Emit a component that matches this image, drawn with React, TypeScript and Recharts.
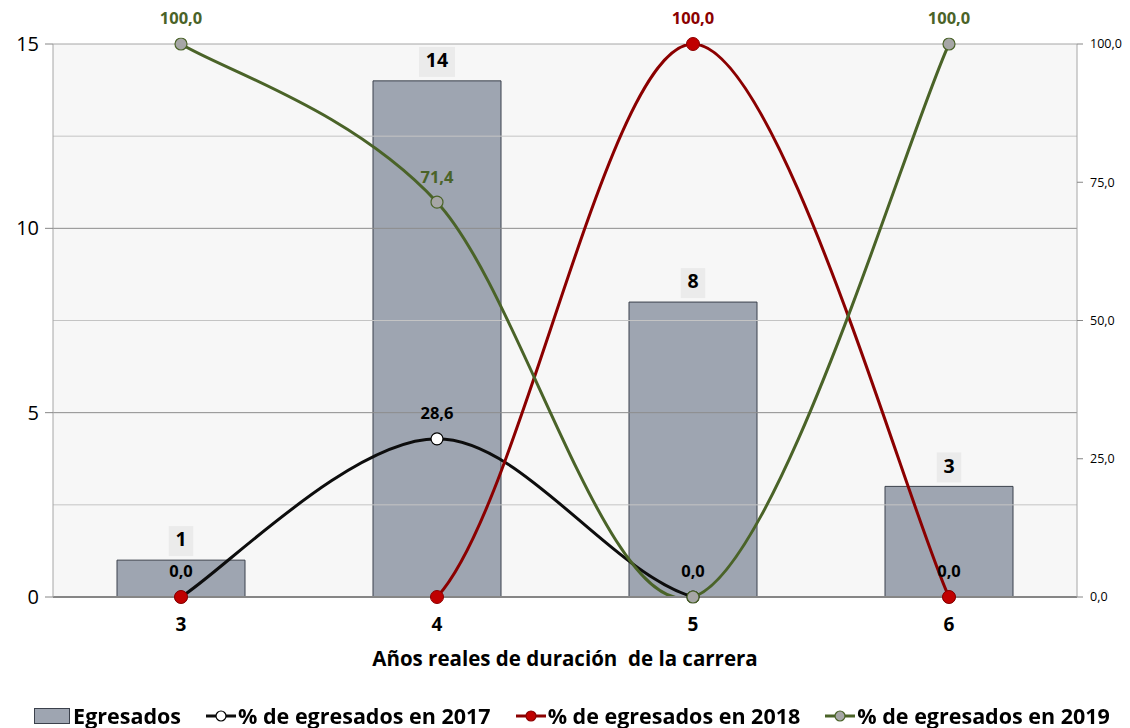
import React from 'react';
import {
  ComposedChart, Bar, Line, XAxis, YAxis, CartesianGrid, ReferenceLine, LabelList,
} from 'recharts';

const categories = ['3', '4', '5', '6'];
const egresados = [1, 14, 8, 3];
const pct2017 = [0, 28.6, 0, 0];
const pct2018 = [0, 0, 100, 0];
const pct2019 = [100, 71.4, 0, 100];
const leftTicks = [0, 5, 10, 15];
const rightTicks = [0, 25, 50, 75, 100];
const minorGrid = [2.5, 7.5, 12.5];
const majorGrid = [5, 10];
const topBorder = 15;

const seriesNames = {
  bar: 'Egresados',
  s2017: '% de egresados en 2017',
  s2018: '% de egresados en 2018',
  s2019: '% de egresados en 2019',
};
const xTitle = 'Años reales de duración\u00a0 de la carrera';

const data = categories.map((c, i) => ({
  cat: c,
  egresados: egresados[i],
  p2017: pct2017[i],
  p2018: pct2018[i],
  p2019: pct2019[i],
}));

const FONT = '"Open Sans", "Noto Sans", sans-serif';
const BAR_FILL = '#9ea5b1';
const BAR_STROKE = '#3b414c';
const C2017 = '#0d0d0d';
const C2018 = '#8b0000';
const C2018_FILL = '#c00000';
const C2019 = '#4a6328';
const C2019_FILL = '#a6a6a6';

const fmt = (v: number) => v.toFixed(1).replace('.', ',');

// Excel-like smoothed line (Catmull-Rom style Bezier)
const excelCurve: any = (context: any) => {
  let pts: number[][] = [];
  return {
    areaStart() {},
    areaEnd() {},
    lineStart() { pts = []; },
    point(x: number, y: number) { pts.push([+x, +y]); },
    lineEnd() {
      const n = pts.length;
      if (!n) return;
      context.moveTo(pts[0][0], pts[0][1]);
      const t = 1 / 6;
      for (let i = 0; i < n - 1; i++) {
        const p0 = pts[i - 1] || pts[i];
        const p1 = pts[i];
        const p2 = pts[i + 1];
        const p3 = pts[i + 2] || pts[i + 1];
        context.bezierCurveTo(
          p1[0] + (p2[0] - p0[0]) * t, p1[1] + (p2[1] - p0[1]) * t,
          p2[0] - (p3[0] - p1[0]) * t, p2[1] - (p3[1] - p1[1]) * t,
          p2[0], p2[1],
        );
      }
    },
  };
};

const lineLabel = (color: string, onlyPositive: boolean) => (props: any) => {
  const { x, y, value } = props;
  if (value == null) return null;
  if (onlyPositive && !(value > 0)) return null;
  return (
    <text x={x} y={y - 24} textAnchor="middle" dominantBaseline="middle"
      fontFamily={FONT} fontWeight={700} fontSize={16.5} fill={color}>
      {fmt(value)}
    </text>
  );
};

const barLabel = (props: any) => {
  const { x, y, width, value } = props;
  const cx = x + width / 2;
  const s = String(value);
  const w = s.length * 11.5 + 13;
  return (
    <g>
      <rect x={cx - w / 2} y={y - 34} width={w} height={30} fill="#ebebeb" />
      <text x={cx} y={y - 19} textAnchor="middle" dominantBaseline="middle"
        fontFamily={FONT} fontWeight={700} fontSize={19.5} fill="#000">
        {s}
      </text>
    </g>
  );
};

const LineIcon = ({ stroke, fill, dotStroke }: { stroke: string; fill: string; dotStroke: string }) => (
  <svg width={32} height={16} style={{ marginRight: 1 }}>
    <line x1={1} y1={8} x2={31} y2={8} stroke={stroke} strokeWidth={3} />
    <circle cx={16} cy={8} r={5} fill={fill} stroke={dotStroke} strokeWidth={1.2} />
  </svg>
);

export default function App() {
  return (
    <div style={{ position: 'fixed', left: 0, top: 0, width: 1130, height: 728, background: '#fff' }}>
      <ComposedChart width={1130} height={728} data={data}
        margin={{ top: 44, right: 0, bottom: 51, left: 0 }} barCategoryGap="25%">
        <CartesianGrid yAxisId="left" fill="#f7f7f7" horizontal={false} vertical={false} />
        <XAxis dataKey="cat" height={80} tickLine={false}
          axisLine={{ stroke: '#868686', strokeWidth: 2 }}
          tick={{ fontFamily: FONT, fontWeight: 700, fontSize: 19, fill: '#000' }}
          tickMargin={15}
          label={{ value: xTitle, position: 'insideBottom', offset: 11,
            style: { fontFamily: FONT, fontWeight: 700, fontSize: 20.5, fill: '#000' } }} />
        <YAxis yAxisId="left" orientation="left" width={53} domain={[0, 15]} ticks={leftTicks}
          interval={0} tickSize={8} tickMargin={6}
          axisLine={{ stroke: '#a6a6a6' }} tickLine={{ stroke: '#868686' }}
          tick={{ fontFamily: FONT, fontSize: 20, fill: '#000' }} />
        <YAxis yAxisId="right" orientation="right" width={53} domain={[0, 100]} ticks={rightTicks}
          interval={0} tickSize={6} tickMargin={7} allowDataOverflow
          tickFormatter={(v: number) => fmt(v)}
          axisLine={{ stroke: '#a6a6a6' }} tickLine={{ stroke: '#868686' }}
          tick={{ fontFamily: FONT, fontSize: 12.5, fill: '#000', textAnchor: 'start' }} />
        {minorGrid.map((v) => (
          <ReferenceLine key={'m' + v} yAxisId="left" y={v} stroke="#c4c4c4" strokeWidth={1} />
        ))}
        {majorGrid.map((v) => (
          <ReferenceLine key={'M' + v} yAxisId="left" y={v} stroke="#8c8c8c" strokeWidth={1} />
        ))}
        <ReferenceLine yAxisId="left" y={topBorder} stroke="#a6a6a6" strokeWidth={1} />
        <Bar yAxisId="left" dataKey="egresados" name={seriesNames.bar} fill={BAR_FILL}
          stroke={BAR_STROKE} strokeWidth={1} isAnimationActive={false}>
          <LabelList dataKey="egresados" content={barLabel} />
        </Bar>
        <Line yAxisId="right" dataKey="p2017" name={seriesNames.s2017} type={excelCurve}
          stroke={C2017} strokeWidth={3} isAnimationActive={false}
          dot={{ r: 6, fill: '#ffffff', stroke: '#000', strokeWidth: 1.2, clipDot: false } as any}
          activeDot={false}>
          <LabelList dataKey="p2017" content={lineLabel('#000', false)} />
        </Line>
        <Line yAxisId="right" dataKey="p2018" name={seriesNames.s2018} type={excelCurve}
          stroke={C2018} strokeWidth={3} isAnimationActive={false}
          dot={{ r: 6.5, fill: C2018_FILL, stroke: C2018, strokeWidth: 1, clipDot: false } as any}
          activeDot={false}>
          <LabelList dataKey="p2018" content={lineLabel(C2018, true)} />
        </Line>
        <Line yAxisId="right" dataKey="p2019" name={seriesNames.s2019} type={excelCurve}
          stroke={C2019} strokeWidth={3} isAnimationActive={false}
          dot={{ r: 6, fill: C2019_FILL, stroke: C2019, strokeWidth: 1.2, clipDot: false } as any}
          activeDot={false}>
          <LabelList dataKey="p2019" content={lineLabel(C2019, true)} />
        </Line>
      </ComposedChart>
      <div style={{
        position: 'absolute', left: 0, top: 701, width: 1130, display: 'flex', justifyContent: 'center',
        alignItems: 'center', fontFamily: FONT, fontWeight: 700, fontSize: 21.5, color: '#000', gap: 24,
        paddingLeft: 14, boxSizing: 'border-box', whiteSpace: 'nowrap',
      }}>
        <div style={{ display: 'flex', alignItems: 'center' }}>
          <span style={{ display: 'inline-block', width: 34, height: 14, background: BAR_FILL,
            border: '1px solid ' + BAR_STROKE, marginRight: 3 }} />
          {seriesNames.bar}
        </div>
        <div style={{ display: 'flex', alignItems: 'center' }}>
          <LineIcon stroke={C2017} fill="#fff" dotStroke="#000" />{seriesNames.s2017}
        </div>
        <div style={{ display: 'flex', alignItems: 'center' }}>
          <LineIcon stroke={C2018} fill={C2018_FILL} dotStroke={C2018} />{seriesNames.s2018}
        </div>
        <div style={{ display: 'flex', alignItems: 'center' }}>
          <LineIcon stroke={C2019} fill={C2019_FILL} dotStroke={C2019} />{seriesNames.s2019}
        </div>
      </div>
    </div>
  );
}
